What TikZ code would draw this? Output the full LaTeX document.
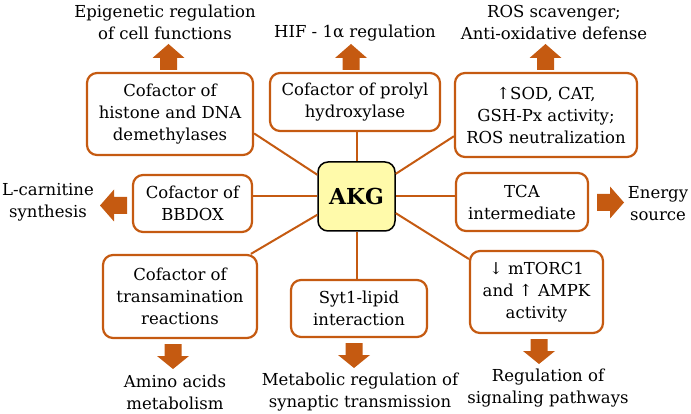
\documentclass[tikz,border=0pt]{standalone}
\usepackage{fontspec}
\setmainfont{DejaVu Serif}
\definecolor{acc}{HTML}{C55A11}
\definecolor{akgfill}{HTML}{FFFAAA}
\newcommand\myfs{\fontsize{16.5}{22}\selectfont}
\begin{document}
\begin{tikzpicture}[x=1pt,y=-1pt,
  box/.style={draw=acc, line width=2.2pt, rounded corners=10pt, align=center, inner sep=0pt, font=\myfs},
  lab/.style={align=center, inner sep=0pt, font=\myfs},
  conn/.style={draw=acc, line width=2pt},
  uparr/.pic={\fill[acc] (-8.5,0) -- (-8.5,-12) -- (-16,-12) -- (0,-26) -- (16,-12) -- (8.5,-12) -- (8.5,0) -- cycle;},
  downarr/.pic={\fill[acc] (-8.5,0) -- (-8.5,12) -- (-16,12) -- (0,25) -- (16,12) -- (8.5,12) -- (8.5,0) -- cycle;},
  leftarr/.pic={\fill[acc] (0,-8.5) -- (-13,-8.5) -- (-13,-16) -- (-27,0) -- (-13,16) -- (-13,8.5) -- (0,8.5) -- cycle;},
  rightarr/.pic={\fill[acc] (0,-8.5) -- (13,-8.5) -- (13,-16) -- (27,0) -- (13,16) -- (13,8.5) -- (0,8.5) -- cycle;}
]
\useasboundingbox (0,0) rectangle (691,414);

% central node
\node[draw=black, line width=1.5pt, fill=akgfill, rounded corners=10pt, minimum width=77pt, minimum height=69pt, inner sep=0pt, font=\fontsize{22}{24}\selectfont\bfseries] (akg) at (356.5,196.5) {AKG};

% boxes
\node[box, minimum width=166pt, minimum height=82pt] (hist) at (170,114) {Cofactor of\\histone and DNA\\demethylases};
\node[box, minimum width=170pt, minimum height=58pt] (prol) at (355,102) {Cofactor of prolyl\\hydroxylase};
\node[box, minimum width=182pt, minimum height=84pt] (sod) at (546,115) {↑SOD, CAT,\\GSH-Px activity;\\ROS neutralization};
\node[box, minimum width=119pt, minimum height=57pt] (bbdox) at (192.5,203.5) {Cofactor of\\BBDOX};
\node[box, minimum width=132pt, minimum height=58pt] (tca) at (522,202) {TCA\\intermediate};
\node[box, minimum width=154pt, minimum height=83pt] (trans) at (180,296.5) {Cofactor of\\transamination\\reactions};
\node[box, minimum width=136pt, minimum height=57pt] (syt) at (359,308.5) {Syt1-lipid\\interaction};
\node[box, minimum width=133pt, minimum height=82pt] (mtor) at (536.5,292) {↓ mTORC1\\and ↑ AMPK\\activity};

% connectors
\draw[conn] (akg.151.4) -- (hist.-13.5);
\draw[conn] (akg.north) -- (akg.north |- prol.south);
\draw[conn] (akg.30.3) -- (sod.193);
\draw[conn] (akg.west) -- (akg.west -| bbdox.east);
\draw[conn] (akg.east) -- (akg.east -| tca.west);
\draw[conn] (akg.205) -- (trans.31.8);
\draw[conn] (akg.south) -- (akg.south |- syt.north);
\draw[conn] (akg.-23.2) -- (mtor.154.3);

% block arrows
\pic at (168.5,70) {uparr};
\pic at (351,70) {uparr};
\pic at (545.5,70) {uparr};
\pic at (127,205.5) {leftarr};
\pic at (597,202.5) {rightarr};
\pic at (173,344) {downarr};
\pic at (354,343) {downarr};
\pic at (539,339) {downarr};

% outcome labels
\node[lab] (l1) at (165,22) {Epigenetic regulation\\of cell functions};
\node[lab] (l2) at (355,33) {HIF - 1α regulation};
\node[lab] (l3) at (554,22) {ROS scavenger;\\Anti-oxidative defense};
\node[lab] (l4) at (48,202) {L-carnitine\\synthesis};
\node[lab] (l5) at (658,204) {Energy\\source};
\node[lab] (l6) at (175,392) {Amino acids\\metabolism};
\node[lab] (l7) at (360,392) {Metabolic regulation of\\synaptic transmission};
\node[lab] (l8) at (548,388) {Regulation of\\signaling pathways};
\end{tikzpicture}
\end{document}
